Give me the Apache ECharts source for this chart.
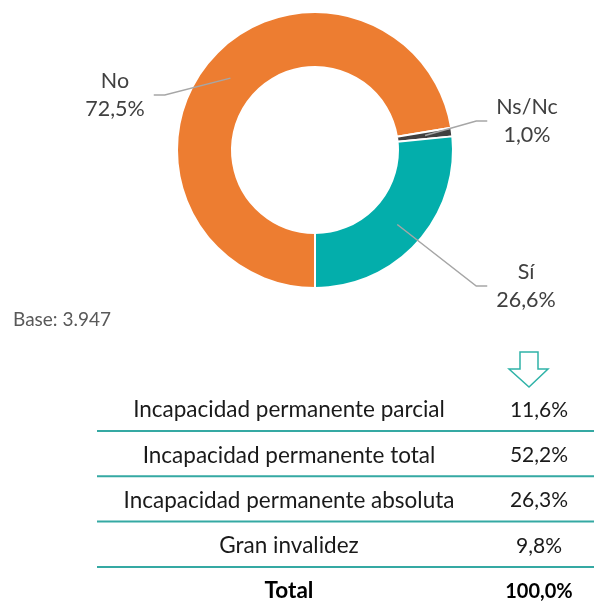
<!DOCTYPE html>
<html>
<head>
<meta charset="utf-8">
<script src="https://cdn.jsdelivr.net/npm/echarts@6/dist/echarts.min.js"></script>
<style>
  html, body { margin: 0; padding: 0; background: #fff; }
  #chart { width: 594px; height: 607px; }
</style>
</head>
<body>
<div id="chart"></div>
<script>
// donut data
var categories = ['No', 'Ns/Nc', 'Sí'];
var values = [72.5, 1.0, 26.6];
var colors = ['#ED7D31', '#404040', '#03AEAB'];

// table under the donut
var rowLabels = [
  'Incapacidad permanente parcial',
  'Incapacidad permanente total',
  'Incapacidad permanente absoluta',
  'Gran invalidez'
];
var rowValues = [11.6, 52.2, 26.3, 9.8];
var totalLabel = 'Total';
var totalValue = 100.0;
var baseText = 'Base: 3.947';

var FONT = 'Lato, "DejaVu Sans", sans-serif';
var CENTER = [315, 150];
// where each label block sits (centre of the text)
var labelPos = [[115, 95], [527, 121], [526, 286]];

function fmt(v) {
  return v.toFixed(1).replace('.', ',') + '%';
}

var chart = echarts.init(document.getElementById('chart'), null, { renderer: 'canvas' });

var pieData = categories.map(function (c, i) {
  return { name: c, value: values[i], itemStyle: { color: colors[i] } };
});

// table graphics
var graphics = [];
var rowY0 = 410, rowStep = 45.3;
var labelX = 289, valueX = 539;
rowLabels.forEach(function (lab, i) {
  var y = rowY0 + i * rowStep;
  graphics.push({
    type: 'text', x: labelX, y: y,
    style: { text: lab, font: '22.5px ' + FONT, fill: '#1a1a1a', align: 'center', verticalAlign: 'middle' }
  });
  graphics.push({
    type: 'text', x: valueX, y: y,
    style: { text: fmt(rowValues[i]), font: '21px ' + FONT, fill: '#1a1a1a', align: 'center', verticalAlign: 'middle' }
  });
  graphics.push({
    type: 'line',
    shape: { x1: 97, y1: y + 21, x2: 594, y2: y + 21 },
    style: { stroke: '#35a9a3', lineWidth: 2 }
  });
});
var totY = rowY0 + rowLabels.length * rowStep;
graphics.push({
  type: 'text', x: labelX, y: totY,
  style: { text: totalLabel, font: 'bold 22.5px ' + FONT, fill: '#000', align: 'center', verticalAlign: 'middle' }
});
graphics.push({
  type: 'text', x: valueX, y: totY,
  style: { text: fmt(totalValue), font: 'bold 20px ' + FONT, fill: '#000', align: 'center', verticalAlign: 'middle' }
});
// base note
graphics.push({
  type: 'text', x: 13, y: 320,
  style: { text: baseText, font: '19px ' + FONT, fill: '#595959', align: 'left', verticalAlign: 'middle' }
});
// down arrow
graphics.push({
  type: 'polygon',
  shape: { points: [[520, 352], [538, 352], [538, 369], [548, 369], [529, 387], [509, 369], [520, 369]] },
  style: { fill: '#fff', stroke: '#2fb3a8', lineWidth: 1.5 }
});

chart.setOption({
  animation: false,
  backgroundColor: '#fff',
  graphic: graphics,
  series: [{
    type: 'pie',
    z: 2,
    center: CENTER,
    radius: [83, 138],
    startAngle: -90,
    clockwise: true,
    silent: true,
    label: { show: false },
    labelLine: { show: false },
    itemStyle: { borderColor: '#fff', borderWidth: 2 },
    data: pieData
  }, {
    // invisible twin, only for labels and leader lines starting inside the ring
    type: 'pie',
    z: 5,
    zlevel: 1,
    center: CENTER,
    radius: [0, 111],
    startAngle: -90,
    clockwise: true,
    silent: true,
    itemStyle: { color: 'rgba(0,0,0,0)' },
    label: {
      show: true,
      position: 'outside',
      fontFamily: FONT,
      fontSize: 21.5,
      lineHeight: 28,
      color: '#404040',
      align: 'center',
      formatter: function (p) { return p.name + '\n' + fmt(p.value); }
    },
    labelLine: { show: true, lineStyle: { color: '#a6a6a6', width: 1.5 } },
    labelLayout: function (p) {
      var pos = labelPos[p.dataIndex];
      var w = p.labelRect.width;
      var anchor = p.labelLinePoints ? p.labelLinePoints[0] : CENTER;
      var side = pos[0] < CENTER[0] ? 1 : -1;
      var endX = pos[0] + side * (w / 2 + 9);
      var bendX = endX + side * 11;
      return {
        x: pos[0], y: pos[1],
        align: 'center', verticalAlign: 'middle',
        labelLinePoints: [anchor, [bendX, pos[1]], [endX, pos[1]]]
      };
    },
    data: categories.map(function (c, i) { return { name: c, value: values[i] }; })
  }]
});
</script>
</body>
</html>
